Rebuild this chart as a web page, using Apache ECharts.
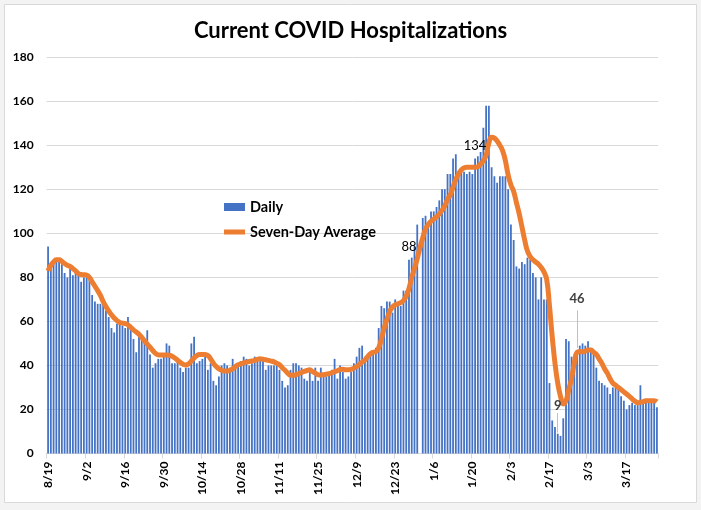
<!DOCTYPE html>
<html><head><meta charset="utf-8">
<script src="https://cdn.jsdelivr.net/npm/echarts@6/dist/echarts.min.js"></script>
<style>html,body{margin:0;padding:0;background:#fff}#c{width:701px;height:510px}</style>
</head><body><div id="c"></div>
<script>
// Categories: one per day, 8/19/2020 .. 3/28/2021
const startDay = Date.UTC(2020, 7, 19);
const dayCount = 222;
const categories = [];
for (let i = 0; i < dayCount; i++) {
  const d = new Date(startDay + i * 86400000);
  categories.push((d.getUTCMonth() + 1) + '/' + d.getUTCDate());
}
const yTicks = [0, 20, 40, 60, 80, 100, 120, 140, 160, 180];

// Daily hospitalizations; Jan 1 missing
const dailyAug = [94,86,88,88,88,86,82,80,84,81, 83,81,78,80,80,79,72,69,68,68, 69,65,62,57,55,59,60,58,57,62, 58,52,46,54,53,52,56,45,39,41, 43,43,45,50,49,41,41,43,39,37, 39,39,50,53,41,42,43];
const dailyOct = [44,38,41,33,31,35,40,41,40,39, 43,40,40,42,44,43,40,41,44,43, 42,42,38,40,40,40,40,38,33,30, 31,38,41,41,40,39,34,33,37,33, 39,33,39,35,35,36,38,43,34,40, 37,34,35,37,41];
const dailyDec = [44,48,49,44,45,46,46,48,57,67, 66,69,69,64,70,67,67,74,74,88, 89,94,104,null,107,108,105,110,110,112, 115,120,120,127,127,134,136,128,128,128, 127,128,127,134,135,137,148,158,158];
const dailyJan = [130,126,123,126,126,126,120,104,97,85, 84,87,86,89,88,82,80,70,80,70, 70,32,15,12,9,8,16,52,51,44, 43,46,49,50,49,51,48,45,39,33, 32,31,30,27,30,30,29,26,24,20, 22,23,22,22,31,23,24,23,23,23, 21];

// Seven-day average
const avgAug = [83,85.5,87,88,88,87.3,86.3,85.5,85,84, 83,81.8,81.3,81.2,81,80,78,76,74,71.8, 69,66.8,64.8,63,61.6,60.4,59.5,59.2,59,58.5, 57.3,56.2,55.2,54.2,52.8,51.2,49.7,48.3,46.8,45.5, 44.8,44.7,44.8,44.8,44.6,44.2,43.4,42.4,41.4,40.6, 40.2,40.8,42,43.4,44.5,45,45];
const avgOct = [45,44.5,43,41,39.5,38.5,37.8,37.5,37.5,37.8, 38.5,39.5,40.3,40.8,41.2,41.5,41.8,42,42.3,42.8, 43,42.8,42.6,42.3,42,41.6,41,40.3,39,37.8, 36.5,35.5,35.5,35.8,36.3,36.8,37.3,37.7,38,37.2, 36.5,35.8,35.7,35.8,36,36.3,36.7,37.2,37.6,38.2, 38.3,38,38,38.2,38.8,39.5,40.5];
const avgDec = [41.5,42.5,44,45.3,46,46.3,48,52,57,61, 64.5,66.5,67.5,68,68.5,69.5,71.5,75,80,84, 88.5,93.5,98,102,104,105.5,106.5,107.5,108.8,110.5, 112.5,115.5,117.5,121,124.5,127,128.8,129.8,130,130, 130,130,130.3,131.5,133,135.5,141,143.7,143.3,142, 140,137.5,133,126.5,122,119,114,109,103,97, 92,89.5,88,87,86,84.5,82.5,79,67,53, 41,32,26,22.5,24,29,34,41,46,46.3, 46.2,46.5,47,47,46,45,43,41,38.5,36.5, 34,32,31,30,29,28,27,26,24.8,23.8, 23,23.3,23.5,24,24,24,24,23.5];

const daily = dailyAug.concat(dailyOct, dailyDec, dailyJan);
const avg = avgAug.concat(avgOct, avgDec);

// Callout labels: [dayIndex, value, text]
const barCallouts = [[131, 88, '88'], [155, 134, '134']];
const lowCallout = [185, 9, '9'];
const avgCallout = [192, 46, '46'];

const FONT = 'Lato';
const chart = echarts.init(document.getElementById('c'), null, {renderer: 'canvas'});
chart.setOption({
  animation: false,
  backgroundColor: '#f3f3f3',
  graphic: [{type: 'rect', z: -10, shape: {x: 4.5, y: 4.5, width: 692, height: 498}, style: {fill: '#ffffff', stroke: '#d9d9d9', lineWidth: 1}}],
  title: {text: 'Current COVID Hospitalizations', left: 'center', top: 15,
    textStyle: {fontFamily: FONT, fontWeight: 'bold', fontSize: 22, color: '#000'}},
  legend: {orient: 'vertical', left: 224, top: 199, padding: 0, itemWidth: 21, itemHeight: 8, itemGap: 9,
    textStyle: {fontFamily: FONT, fontWeight: 'bold', fontSize: 14.5, color: '#000', lineHeight: 16},
    data: [{name: 'Daily', icon: 'rect'}, {name: 'Seven-Day Average', icon: 'path://M0 0H21V5H0Z'}]},
  grid: {left: 46.7, right: 42.7, top: 57.3, bottom: 56.5, containLabel: false},
  xAxis: {type: 'category', data: categories, boundaryGap: true,
    axisLine: {lineStyle: {color: '#d9d9d9'}},
    axisTick: {show: true, interval: 13, length: 5, alignWithLabel: false, lineStyle: {color: '#d9d9d9'}},
    axisLabel: {interval: 13, rotate: 90, margin: 8, fontFamily: FONT, fontWeight: 'bold', fontSize: 12, color: '#000'},
    splitLine: {show: false}},
  yAxis: {type: 'value', min: yTicks[0], max: yTicks[yTicks.length - 1], interval: 20,
    axisLine: {show: false}, axisTick: {show: false},
    axisLabel: {margin: 13, fontFamily: FONT, fontWeight: 'bold', fontSize: 12, color: '#000'},
    splitLine: {lineStyle: {color: '#d9d9d9'}}},
  series: [
    {name: 'Daily', type: 'bar', data: daily, barCategoryGap: '35%',
      itemStyle: {color: '#4472C4'},
      markPoint: {symbol: 'rect', symbolSize: 1, itemStyle: {color: 'rgba(0,0,0,0)'},
        data: barCallouts.map(c => ({coord: [categories[c[0]], c[1]], value: c[2],
          label: {show: true, position: 'top', distance: 6, formatter: c[2], fontFamily: FONT, fontSize: 13, color: '#000'}}))
          .concat([{coord: [categories[lowCallout[0]], lowCallout[1]], value: lowCallout[2],
          label: {show: true, position: 'top', distance: 21, formatter: lowCallout[2], fontFamily: FONT, fontWeight: 'bold', fontSize: 13, color: '#404040'}}])},
      markLine: {silent: true, symbol: 'none', label: {show: false}, lineStyle: {color: '#bfbfbf', width: 1, type: 'solid'},
        data: [[{coord: [categories[lowCallout[0]], 9.5]}, {coord: [categories[lowCallout[0]], 18.4]}]]}},
    {name: 'Seven-Day Average', type: 'line', data: avg, smooth: true, symbol: 'none', z: 3,
      lineStyle: {color: '#ED7D31', width: 5}, itemStyle: {color: '#ED7D31'},
      markPoint: {symbol: 'rect', symbolSize: 1, itemStyle: {color: 'rgba(0,0,0,0)'},
        data: [{coord: [categories[avgCallout[0]], avgCallout[1]], value: avgCallout[2],
          label: {show: true, position: 'top', distance: 46, formatter: avgCallout[2], fontFamily: FONT, fontWeight: 'bold', fontSize: 13, color: '#404040'}}]},
      markLine: {silent: true, symbol: 'none', label: {show: false}, lineStyle: {color: '#bfbfbf', width: 1, type: 'solid'},
        data: [[{coord: [categories[avgCallout[0]], 48]}, {coord: [categories[avgCallout[0]], 65]}]]}}
  ]
});
</script></body></html>
